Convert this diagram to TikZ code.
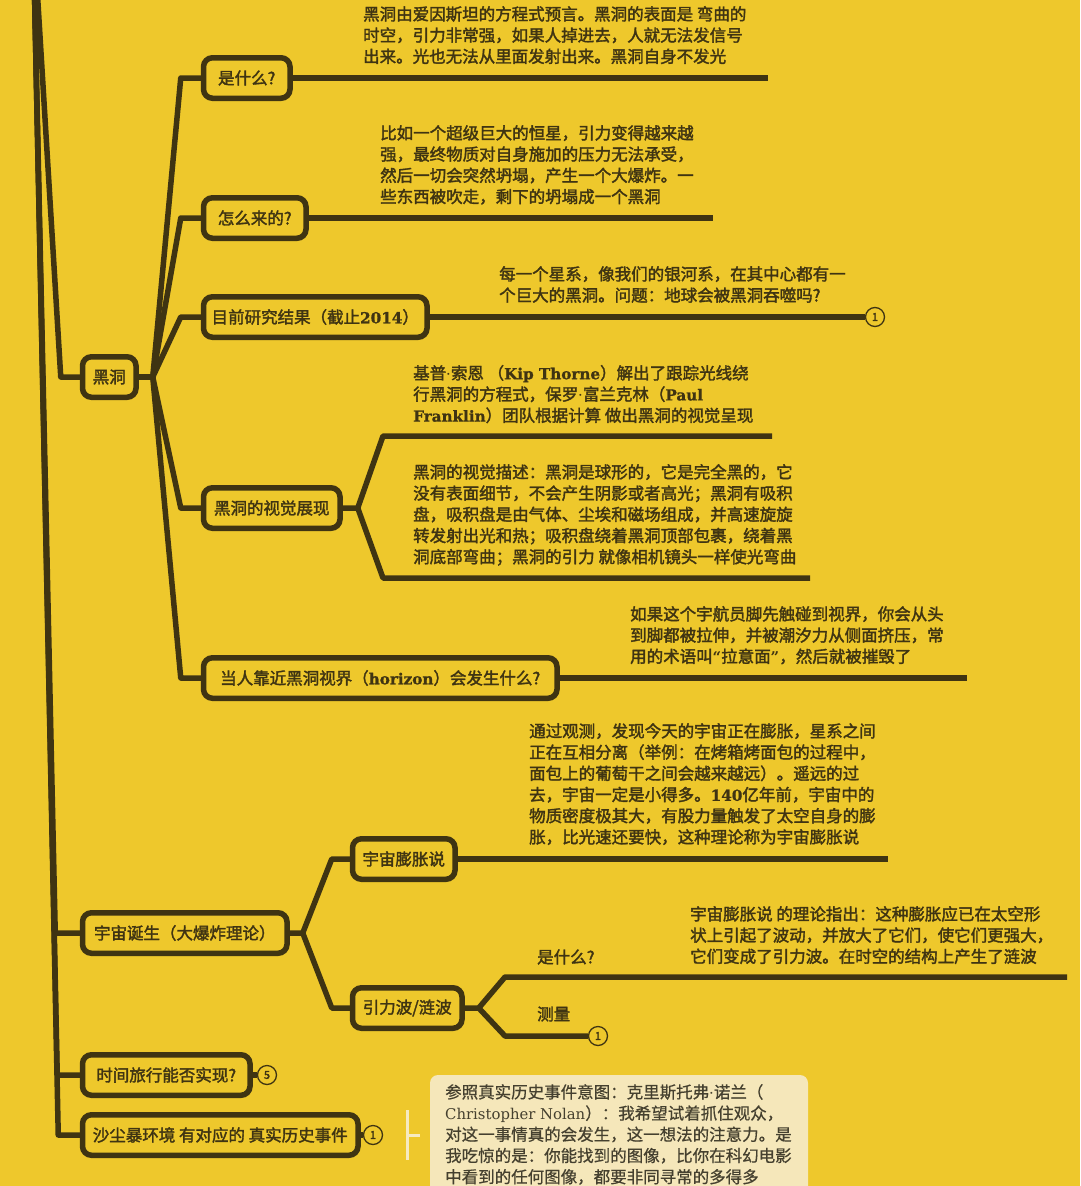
\documentclass[tikz,border=0pt]{standalone}
\usepackage{fontspec}
\setmainfont{Noto Sans CJK SC}[FakeBold=2]
\newfontfamily\slabfont{DejaVu Serif}[Scale=0.92,FakeBold=1]
\newfontfamily\serifnote{DejaVu Serif}[Scale=0.9]
\newfontfamily\notefont{Noto Sans CJK SC}[FakeBold=0.6]
\newcommand\lat[1]{{\slabfont\bfseries #1}}
\newcommand\mdot{{\serifnote\char"00B7}}
\newcommand\tstrut{\rule{0pt}{15pt}}
\definecolor{bgy}{HTML}{EEC82C}
\definecolor{ink}{HTML}{3F3412}
\definecolor{notefill}{HTML}{F5E7BA}
\definecolor{notetext}{HTML}{45402F}
\definecolor{bracketc}{HTML}{F6EAC2}
\tikzset{
  conn/.style={draw=ink, line width=5.5pt, line join=round},
  topic/.style={draw=ink, line width=5.5pt, rounded corners=9pt, fill=bgy, minimum height=40.5pt, inner sep=0pt, anchor=west, text=ink, font=\fontsize{16.5}{20}\selectfont},
  para/.style={anchor=north west, inner sep=0pt, align=left, text=ink, font=\fontsize{16.5}{21.2}\selectfont},
  notepara/.style={anchor=north west, inner sep=0pt, align=left, text=notetext, font=\notefont\fontsize{16.5}{21.2}\selectfont},
  circnum/.style={circle, draw=ink, line width=1.3pt, fill=bgy, minimum size=19pt, inner sep=0pt, text=ink, font=\fontsize{11}{11}\selectfont},
}
\begin{document}
\begin{tikzpicture}[x=1pt,y=-1pt]
\useasboundingbox (0,0) rectangle (1080,1186);
\fill[bgy] (0,0) rectangle (1080,1186);
\begin{scope}
\clip (0,0) rectangle (1080,1186);
% topics
\node[topic, minimum width=53.5pt] (hd) at (79.75,377) {黑洞};
\node[topic, minimum width=86.5pt] (q1) at (200.75,78) {是什么?};
\node[topic, minimum width=102.5pt] (q2) at (200.75,218) {怎么来的?};
\node[topic, minimum width=223.5pt] (q3) at (200.75,317) {目前研究结果（截止\lat{2014}）};
\node[topic, minimum width=136.5pt] (q4) at (200.75,508) {黑洞的视觉展现};
\node[topic, minimum width=353.5pt] (q5) at (200.75,678) {当人靠近黑洞视界（\lat{horizon}）会发生什么?};
\node[topic, minimum width=204.5pt] (yz) at (79.75,933) {宇宙诞生（大爆炸理论）};
\node[topic, minimum width=102.5pt] (pz) at (349.75,859) {宇宙膨胀说};
\node[topic, minimum width=109.5pt] (yl) at (349.75,1008) {引力波/涟波};
\node[topic, minimum width=167.5pt] (sj) at (79.75,1075) {时间旅行能否实现?};
\node[topic, minimum width=275.5pt] (sc) at (79.75,1135) {沙尘暴环境 有对应的 真实历史事件};
% circled numbers
\node[circnum] (c1) at (875,317) {1};
\node[circnum] (c2) at (598,1036) {1};
\node[circnum] (c5) at (267,1075) {5};
\node[circnum] (c6) at (373,1135) {1};
% coordinates
\coordinate (root) at (33,-79);
\coordinate (hdj) at ([xshift=14pt]hd.east);
\coordinate (e1) at (768,0);
\coordinate (e2) at (713,0);
\coordinate (q4j) at ([xshift=15pt]q4.east);
\coordinate (q4a) at (383,436);
\coordinate (q4ae) at (772,436);
\coordinate (q4b) at (383,578);
\coordinate (q4be) at (810,578);
\coordinate (e5) at (967,0);
\coordinate (yzj) at ([xshift=13pt]yz.east);
\coordinate (e7) at (888,0);
\coordinate (ylj) at ([xshift=14pt]yl.east);
\coordinate (yla) at (505,977);
\coordinate (ylae) at (1067,977);
\coordinate (ylb) at (505,1036);
% connectors
\draw[conn] (root) -- ([xshift=-19pt]hd.west) -- (hd.west);
\draw[conn] (root) -- ([xshift=-24.5pt]yz.west) -- (yz.west);
\draw[conn] (root) -- ([xshift=-22.5pt]sj.west) -- (sj.west);
\draw[conn] (root) -- ([xshift=-21.5pt]sc.west) -- (sc.west);
\draw[conn] (hd.east) -- (hdj) -- ([xshift=-20pt]q1.west) -- (q1.west);
\draw[conn] (hd.east) -- (hdj) -- ([xshift=-20pt]q2.west) -- (q2.west);
\draw[conn] (hd.east) -- (hdj) -- ([xshift=-20pt]q3.west) -- (q3.west);
\draw[conn] (hd.east) -- (hdj) -- ([xshift=-20pt]q4.west) -- (q4.west);
\draw[conn] (hd.east) -- (hdj) -- ([xshift=-20pt]q5.west) -- (q5.west);
\draw[conn] (q1.east) -- (q1.east -| e1);
\draw[conn] (q2.east) -- (q2.east -| e2);
\draw[conn] (q3.east) -- (c1.west);
\draw[conn] (q4.east) -- (q4j) -- (q4a) -- (q4ae);
\draw[conn] (q4j) -- (q4b) -- (q4be);
\draw[conn] (q5.east) -- (q5.east -| e5);
\draw[conn] (yz.east) -- (yzj) -- ([xshift=-18pt]pz.west) -- (pz.west);
\draw[conn] (yzj) -- ([xshift=-18pt]yl.west) -- (yl.west);
\draw[conn] (pz.east) -- (pz.east -| e7);
\draw[conn] (yl.east) -- (ylj) -- (yla) -- (ylae);
\draw[conn] (ylj) -- (ylb) -- (c2.west);
\draw[conn] (sj.east) -- (c5.west);
\draw[conn] (sc.east) -- (c6.west);
% paragraphs
\node[para] (t1) at (363,5) {\tstrut 黑洞由爱因斯坦的方程式预言。黑洞的表面是 弯曲的\\时空，引力非常强，如果人掉进去，人就无法发信号\\出来。光也无法从里面发射出来。黑洞自身不发光};
\node[para] (t2) at (380,124) {\tstrut 比如一个超级巨大的恒星，引力变得越来越\\强，最终物质对自身施加的压力无法承受，\\然后一切会突然坍塌，产生一个大爆炸。一\\些东西被吹走，剩下的坍塌成一个黑洞};
\node[para] (t3) at (499,265) {\tstrut 每一个星系，像我们的银河系，在其中心都有一\\个巨大的黑洞。问题：地球会被黑洞吞噬吗?};
\node[para] (t4) at (413,364) {\tstrut 基普\mdot 索恩 （\lat{Kip Thorne}）解出了跟踪光线绕\\行黑洞的方程式，保罗\mdot 富兰克林（\lat{Paul}\\\lat{Franklin}）团队根据计算 做出黑洞的视觉呈现};
\node[para] (t5) at (413,463) {\tstrut 黑洞的视觉描述：黑洞是球形的，它是完全黑的，它\\没有表面细节，不会产生阴影或者高光；黑洞有吸积\\盘，吸积盘是由气体、尘埃和磁场组成，并高速旋旋\\转发射出光和热；吸积盘绕着黑洞顶部包裹，绕着黑\\洞底部弯曲；黑洞的引力 就像相机镜头一样使光弯曲};
\node[para] (t6) at (630,605) {\tstrut 如果这个宇航员脚先触碰到视界，你会从头\\到脚都被拉伸，并被潮汐力从侧面挤压，常\\用的术语叫{\serifnote\bfseries “}拉意面{\serifnote\bfseries ”}，然后就被摧毁了};
\node[para] (t7) at (529,722) {\tstrut 通过观测，发现今天的宇宙正在膨胀，星系之间\\正在互相分离（举例：在烤箱烤面包的过程中，\\面包上的葡萄干之间会越来越远）。遥远的过\\去，宇宙一定是小得多。\lat{140}亿年前，宇宙中的\\物质密度极其大，有股力量触发了太空自身的膨\\胀，比光速还要快，这种理论称为宇宙膨胀说};
\node[para] (t8) at (690,905) {\tstrut 宇宙膨胀说 的理论指出：这种膨胀应已在太空形\\状上引起了波动，并放大了它们，使它们更强大，\\它们变成了引力波。在时空的结构上产生了涟波};
\node[para] (l1) at (537,948) {\tstrut 是什么?};
\node[para] (l2) at (537,1005) {\tstrut 测量};
% note
\fill[notefill, rounded corners=8pt] (430,1075) rectangle (808,1210);
\node[notepara] (nt) at (445,1083) {\tstrut 参照真实历史事件意图：克里斯托弗\mdot 诺兰（\\{\serifnote Christopher Nolan}）：我希望试着抓住观众，\\对这一事情真的会发生，这一想法的注意力。是\\我吃惊的是：你能找到的图像，比你在科幻电影\\中看到的任何图像，都要非同寻常的多得多};
\coordinate (br) at (407,1135);
\draw[bracketc, line width=3pt] ([yshift=25pt]br) -- ([yshift=-25pt]br);
\draw[bracketc, line width=3pt] (br) -- ([xshift=13pt]br);
\end{scope}
\end{tikzpicture}
\end{document}
